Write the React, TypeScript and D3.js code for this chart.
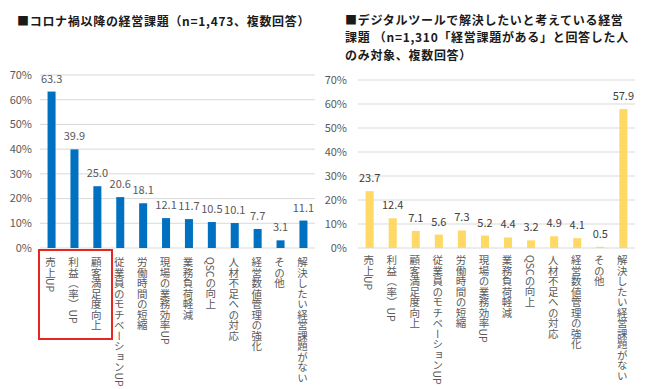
import * as d3 from 'd3'

const categories = [
  '売上UP',
  '利益（率）UP',
  '顧客満足度向上',
  '従業員のモチベーションUP',
  '労働時間の短縮',
  '現場の業務効率UP',
  '業務負荷軽減',
  'QSCの向上',
  '人材不足への対応',
  '経営数値管理の強化',
  'その他',
  '解決したい経営課題がない',
]
const afterCovid = [63.3, 39.9, 25.0, 20.6, 18.1, 12.1, 11.7, 10.5, 10.1, 7.7, 3.1, 11.1]
const digitalTools = [23.7, 12.4, 7.1, 5.6, 7.3, 5.2, 4.4, 3.2, 4.9, 4.1, 0.5, 57.9]
const yTicks = [0, 10, 20, 30, 40, 50, 60, 70]

const leftTitle = ['■コロナ禍以降の経営課題（n=1,473、複数回答）']
const rightTitle = [
  '■デジタルツールで解決したいと考えている経営',
  '課題 （n=1,310「経営課題がある」と回答した人',
  'のみ対象、複数回答）',
]

const font = '"Noto Sans CJK JP", "Noto Sans", sans-serif'

type PanelProps = {
  values: number[]
  x0: number
  x1: number
  yTop: number
  yBottom: number
  color: string
  labelColor: string
  labelTop: number
  tickRight: number
}

const Panel = ({ values, x0, x1, yTop, yBottom, color, labelColor, labelTop, tickRight }: PanelProps) => {
  const x = d3.scaleBand<string>().domain(categories).range([x0, x1]).paddingInner(0.65).paddingOuter(0.33)
  const y = d3.scaleLinear().domain([0, 70]).range([yBottom, yTop])

  return (
    <g>
      {yTicks.map((t) => (
        <g key={t}>
          <line x1={x0} x2={x1} y1={y(t)} y2={y(t)} stroke="#d9d9d9" strokeWidth={1} />
          <text x={tickRight} y={y(t)} dy="0.35em" textAnchor="end" fontSize={11} fill="#595959">
            {t}%
          </text>
        </g>
      ))}
      {categories.map((c, i) => {
        const bx = x(c) as number
        const cx = bx + x.bandwidth() / 2
        return (
          <g key={c}>
            <rect x={bx} y={y(values[i])} width={x.bandwidth()} height={y(0) - y(values[i])} fill={color} />
            <text x={cx} y={y(values[i]) - 9} textAnchor="middle" fontSize={11} fill={labelColor}>
              {values[i].toFixed(1)}
            </text>
            <text
              x={cx - 1}
              y={labelTop}
              fontSize={10.5}
              fill="#595959"
              style={{ writingMode: 'vertical-rl', textOrientation: 'mixed' } as any}
            >
              {c}
            </text>
          </g>
        )
      })}
    </g>
  )
}

export default function App() {
  return (
    <svg
      width={650}
      height={389}
      style={{ position: 'absolute', left: 0, top: 0, background: '#fff' }}
      fontFamily={font}
    >
      {leftTitle.map((t, i) => (
        <text key={i} x={17} y={26 + i * 17.5} fontSize={12} letterSpacing={0.7} fontWeight="bold" fill="#1a1a1a">
          {t}
        </text>
      ))}
      {rightTitle.map((t, i) => (
        <text key={i} x={345} y={24.5 + i * 17.5} fontSize={12} letterSpacing={0.7} fontWeight="bold" fill="#1a1a1a">
          {t}
        </text>
      ))}
      <Panel
        values={afterCovid}
        x0={40}
        x1={315}
        yTop={75}
        yBottom={248}
        color="#0070c0"
        labelColor="#595959"
        labelTop={257}
        tickRight={32}
      />
      <Panel
        values={digitalTools}
        x0={358}
        x1={635}
        yTop={80}
        yBottom={248}
        color="#ffd966"
        labelColor="#404040"
        labelTop={255}
        tickRight={347}
      />
      <rect x={39} y={250} width={73} height={89} fill="none" stroke="#e8261f" strokeWidth={2} />
    </svg>
  )
}
